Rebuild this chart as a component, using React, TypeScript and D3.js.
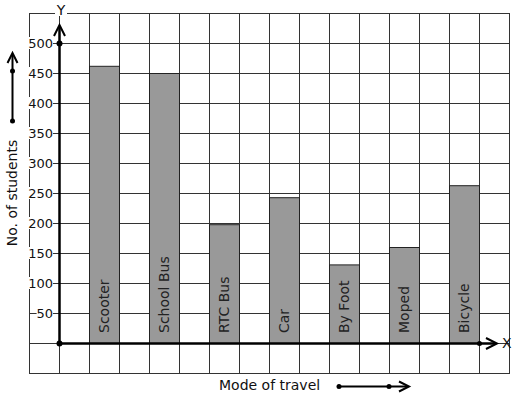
import React from "react";
import * as d3 from "d3";

const categories = ["Scooter", "School Bus", "RTC Bus", "Car", "By Foot", "Moped", "Bicycle"];
const students = [462, 450, 198, 243, 131, 160, 263];
const yTicks = [50, 100, 150, 200, 250, 300, 350, 400, 450, 500];

const W = 517, H = 399;
const FONT = "DejaVu Sans, sans-serif";

export default function App() {
  const x = d3.scaleLinear().domain([0, 16]).range([29, 509]);
  const y = d3.scaleLinear().domain([-50, 550]).range([373, 13]);
  const cols = d3.range(0, 17);
  const rows = d3.range(-50, 551, 50);
  const barCol = (i: number) => 2 + 2 * i;
  const x0 = x(1), y0 = y(0);

  return (
    <svg width={W} height={H} style={{ position: "absolute", left: 0, top: 0, background: "#fff" }}>
      <rect width={W} height={H} fill="#fff" />
      {/* grid */}
      {cols.map((c) => (
        <line key={"v" + c} x1={x(c) + 0.5} x2={x(c) + 0.5} y1={y(550)} y2={y(-50)} stroke="#333" strokeWidth={1} />
      ))}
      {rows.map((r) => (
        <line key={"h" + r} x1={x(0)} x2={x(16) + 1} y1={y(r) + 0.5} y2={y(r) + 0.5} stroke="#333" strokeWidth={1} />
      ))}
      {/* bars */}
      {students.map((v, i) => (
        <g key={categories[i]}>
          <rect x={x(barCol(i)) + 0.5} y={y(v) + 0.5} width={x(1) - x(0)} height={y(0) - y(v)} fill="#999" stroke="#222" strokeWidth={1} />
          <text
            transform={`translate(${x(barCol(i) + 0.5) + 5},${y(0) - 10}) rotate(-90)`}
            fontFamily={FONT}
            fontSize={14}
            fill="#222"
          >
            {categories[i]}
          </text>
        </g>
      ))}
      {/* y tick labels */}
      {yTicks.map((t) => {
        const label = String(t);
        const w = label.length * 8.2;
        return (
          <g key={"t" + t}>
            <rect x={53 - w} y={y(t) - 6} width={w} height={12} fill="#fff" />
            <text x={53} y={y(t) + 5} textAnchor="end" fontFamily={FONT} fontSize={13} fill="#111">
              {label}
            </text>
          </g>
        );
      })}
      {/* axes */}
      <line x1={x0 + 0.5} x2={x0 + 0.5} y1={y0 + 1} y2={26} stroke="#000" strokeWidth={2.5} />
      <path d={`M${x0 - 5},${36} L${x0 + 0.5},${25} L${x0 + 6},${36}`} fill="none" stroke="#000" strokeWidth={2} />
      <line x1={x0} x2={496} y1={y0 + 0.5} y2={y0 + 0.5} stroke="#000" strokeWidth={2.5} />
      <path d={`M${486},${y0 - 5} L${497},${y0 + 0.5} L${486},${y0 + 6}`} fill="none" stroke="#000" strokeWidth={2} />
      <circle cx={x0 + 0.5} cy={y0 + 0.5} r={3} fill="#000" />
      <circle cx={x0 + 0.5} cy={y(500) + 0.5} r={3} fill="#000" />
      <circle cx={x(15) + 0.5} cy={y0 + 0.5} r={2.5} fill="#000" />
      <rect x={55} y={3} width={12} height={13} fill="#fff" />
      <text x={61} y={15} textAnchor="middle" fontFamily={FONT} fontSize={14} fill="#111">Y</text>
      <text x={502} y={y0 + 5} fontFamily={FONT} fontSize={14} fill="#111">X</text>
      {/* y axis title */}
      <text transform={`translate(17,193) rotate(-90)`} textAnchor="middle" fontFamily={FONT} fontSize={14} fill="#111">
        No. of students
      </text>
      <line x1={12.5} x2={12.5} y1={122} y2={54} stroke="#000" strokeWidth={2} />
      <path d="M7.5,63 L12.5,53 L17.5,63" fill="none" stroke="#000" strokeWidth={2} />
      <circle cx={12.5} cy={71} r={2.5} fill="#000" />
      <circle cx={12.5} cy={121} r={2.5} fill="#000" />
      {/* x axis title */}
      <text x={219} y={390} fontFamily={FONT} fontSize={14} fill="#111">Mode of travel</text>
      <line x1={338} x2={408} y1={386.5} y2={386.5} stroke="#000" strokeWidth={2} />
      <path d="M399,381.5 L409,386.5 L399,391.5" fill="none" stroke="#000" strokeWidth={2} />
      <circle cx={339} cy={386.5} r={2.5} fill="#000" />
      <circle cx={389} cy={386.5} r={2.5} fill="#000" />
    </svg>
  );
}
